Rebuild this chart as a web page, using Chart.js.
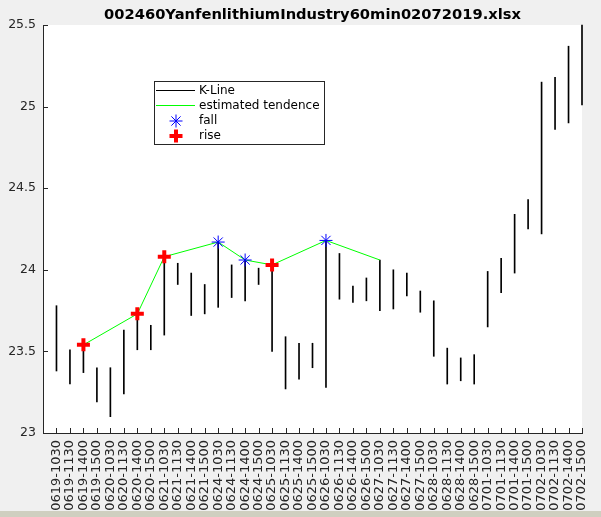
<!DOCTYPE html>
<html>
<head>
<meta charset="utf-8">
<script src="https://cdn.jsdelivr.net/npm/chart.js@4/dist/chart.umd.min.js"></script>
<style>
  html, body { margin: 0; padding: 0; background: #f0f0f0; }
  #wrap { position: relative; width: 601px; height: 517px; overflow: hidden; }
  #strip { position: absolute; left: 0; bottom: 0; width: 601px; height: 6px; background: #cfcfc0; }
</style>
</head>
<body>
<div id="wrap">
  <canvas id="kChart" width="601" height="517"></canvas>
  <div id="strip"></div>
</div>
<script>
const chartTitle = '002460YanfenlithiumIndustry60min02072019.xlsx';

const labels = [
  '0619-1030', '0619-1130', '0619-1400', '0619-1500',
  '0620-1030', '0620-1130', '0620-1400', '0620-1500',
  '0621-1030', '0621-1130', '0621-1400', '0621-1500',
  '0624-1030', '0624-1130', '0624-1400', '0624-1500',
  '0625-1030', '0625-1130', '0625-1400', '0625-1500',
  '0626-1030', '0626-1130', '0626-1400', '0626-1500',
  '0627-1030', '0627-1130', '0627-1400', '0627-1500',
  '0628-1030', '0628-1130', '0628-1400', '0628-1500',
  '0701-1030', '0701-1130', '0701-1400', '0701-1500',
  '0702-1030', '0702-1130', '0702-1400', '0702-1500'
];

const lows = [23.38, 23.30, 23.37, 23.19, 23.10, 23.24, 23.51, 23.51, 23.60, 23.91,
              23.72, 23.73, 23.77, 23.83, 23.81, 23.91, 23.50, 23.27, 23.33, 23.40,
              23.28, 23.82, 23.80, 23.81, 23.75, 23.76, 23.84, 23.74, 23.47, 23.30,
              23.32, 23.30, 23.65, 23.86, 23.98, 24.25, 24.22, 24.86, 24.90, 25.01];
const highs = [23.78, 23.51, 23.54, 23.40, 23.40, 23.63, 23.73, 23.66, 24.08, 24.04,
               23.98, 23.91, 24.17, 24.03, 24.06, 24.01, 24.03, 23.59, 23.55, 23.55,
               24.18, 24.10, 23.90, 23.95, 24.06, 24.00, 23.98, 23.87, 23.81, 23.52,
               23.46, 23.48, 23.99, 24.07, 24.34, 24.43, 25.15, 25.18, 25.37, 25.50];

// estimated tendence (index into labels, price)
const trendIdx = [2, 6, 8, 12, 14, 16, 20, 24];
const trendVal = [23.54, 23.73, 24.08, 24.17, 24.06, 24.03, 24.18, 24.06];

const riseIdx = [2, 6, 8, 16];
const riseVal = [23.54, 23.73, 24.08, 24.03];
const fallIdx = [12, 14, 20];
const fallVal = [24.17, 24.06, 24.18];

const yTicks = [23, 23.5, 24, 24.5, 25, 25.5];

const axisColor = '#262626';
const fontFamily = '"DejaVu Sans", sans-serif';

const toPoints = (xs, ys) => xs.map((x, i) => ({ x: x, y: ys[i] }));

function drawStar(ctx, x, y, r) {
  const d = r * Math.SQRT1_2;
  ctx.beginPath();
  ctx.moveTo(x - r, y); ctx.lineTo(x + r, y);
  ctx.moveTo(x, y - r); ctx.lineTo(x, y + r);
  ctx.moveTo(x - d, y - d); ctx.lineTo(x + d, y + d);
  ctx.moveTo(x - d, y + d); ctx.lineTo(x + d, y - d);
  ctx.stroke();
}

function drawPlus(ctx, x, y, r) {
  ctx.beginPath();
  ctx.moveTo(x - r, y); ctx.lineTo(x + r, y);
  ctx.moveTo(x, y - r); ctx.lineTo(x, y + r);
  ctx.stroke();
}

// white axes background, title, inward ticks and the legend box
const matlabLook = {
  id: 'matlabLook',
  beforeDraw(chart) {
    const { ctx, chartArea: a } = chart;
    ctx.save();
    ctx.fillStyle = '#ffffff';
    ctx.fillRect(a.left, a.top, a.right - a.left, a.bottom - a.top);
    ctx.restore();
  },
  afterDraw(chart) {
    const { ctx, chartArea: a, scales } = chart;
    ctx.save();

    ctx.fillStyle = '#000';
    ctx.font = 'bold 14.7px ' + fontFamily;
    ctx.textAlign = 'center';
    ctx.textBaseline = 'alphabetic';
    ctx.fillText(chartTitle, (a.left + a.right) / 2, 19);

    ctx.strokeStyle = axisColor;
    ctx.lineWidth = 1;
    ctx.beginPath();
    yTicks.forEach(v => {
      const y = Math.round(scales.y.getPixelForValue(v)) + 0.5;
      ctx.moveTo(a.left, y);
      ctx.lineTo(a.left + 5, y);
    });
    labels.forEach((l, i) => {
      const x = Math.round(scales.x.getPixelForValue(i)) + 0.5;
      ctx.moveTo(x, a.bottom);
      ctx.lineTo(x, a.bottom - 5);
    });
    ctx.stroke();

    // legend
    const lx = 154.5, ly = 81.5, lw = 170, lh = 63;
    ctx.fillStyle = '#fff';
    ctx.fillRect(lx, ly, lw, lh);
    ctx.strokeStyle = '#262626';
    ctx.strokeRect(lx, ly, lw, lh);

    ctx.font = '12px ' + fontFamily;
    ctx.textAlign = 'left';
    ctx.textBaseline = 'middle';
    const rows = [90.5, 105.5, 121, 136];
    const names = ['K-Line', 'estimated tendence', 'fall', 'rise'];

    ctx.lineWidth = 1;
    ctx.strokeStyle = '#000';
    ctx.beginPath(); ctx.moveTo(156, rows[0]); ctx.lineTo(195, rows[0]); ctx.stroke();
    ctx.strokeStyle = '#00ff00';
    ctx.beginPath(); ctx.moveTo(156, rows[1]); ctx.lineTo(195, rows[1]); ctx.stroke();
    ctx.strokeStyle = '#0000ff';
    drawStar(ctx, 176, rows[2], 6.5);
    ctx.strokeStyle = '#ff0000';
    ctx.lineWidth = 4;
    drawPlus(ctx, 176, rows[3], 6.5);

    ctx.fillStyle = '#000';
    names.forEach((n, i) => ctx.fillText(n, 199, rows[i]));
    ctx.restore();
  }
};

const ctx = document.getElementById('kChart').getContext('2d');

new Chart(ctx, {
  type: 'bar',
  data: {
    datasets: [
      {
        type: 'line',
        label: 'rise',
        data: toPoints(riseIdx, riseVal),
        showLine: false,
        pointStyle: 'cross',
        pointRadius: 6.5,
        pointBorderWidth: 4,
        pointBorderColor: '#ff0000',
        pointBackgroundColor: '#ff0000',
        clip: false,
        order: 0
      },
      {
        type: 'line',
        label: 'fall',
        data: toPoints(fallIdx, fallVal),
        showLine: false,
        pointStyle: 'star',
        pointRadius: 6.5,
        pointBorderWidth: 1,
        pointBorderColor: '#0000ff',
        pointBackgroundColor: '#0000ff',
        clip: false,
        order: 1
      },
      {
        type: 'line',
        label: 'estimated tendence',
        data: toPoints(trendIdx, trendVal),
        borderColor: '#00ff00',
        borderWidth: 1,
        pointRadius: 0,
        tension: 0,
        order: 2
      },
      {
        type: 'bar',
        label: 'K-Line',
        data: labels.map((l, i) => ({ x: i, y: [lows[i], highs[i]] })),
        backgroundColor: '#000000',
        borderWidth: 0,
        barThickness: 1,
        clip: false,
        order: 3
      }
    ]
  },
  options: {
    responsive: false,
    animation: false,
    events: [],
    layout: { padding: { top: 25, right: 19, left: 0, bottom: 0 } },
    plugins: {
      legend: { display: false },
      title: { display: false },
      tooltip: { enabled: false }
    },
    scales: {
      x: {
        type: 'linear',
        min: -1,
        max: 39,
        offset: false,
        grid: { display: false, drawTicks: false },
        border: { display: true, color: axisColor, width: 1 },
        afterBuildTicks: scale => {
          scale.ticks = labels.map((l, i) => ({ value: i }));
        },
        afterFit: scale => {
          scale.height = 84;
          scale.paddingRight = 0;
          scale.paddingLeft = 0;
        },
        ticks: {
          autoSkip: false,
          minRotation: 90,
          maxRotation: 90,
          padding: 7,
          color: axisColor,
          font: { family: fontFamily, size: 13 },
          callback: v => labels[v] || ''
        }
      },
      y: {
        min: 23,
        max: 25.5,
        grid: { display: false, drawTicks: false },
        border: { display: true, color: axisColor, width: 1 },
        afterBuildTicks: scale => {
          scale.ticks = yTicks.map(v => ({ value: v }));
        },
        afterFit: scale => { scale.width = 43; },
        ticks: {
          padding: 7,
          color: axisColor,
          font: { family: fontFamily, size: 12.5 },
          callback: v => String(v)
        }
      }
    }
  },
  plugins: [matlabLook]
});
</script>
</body>
</html>
